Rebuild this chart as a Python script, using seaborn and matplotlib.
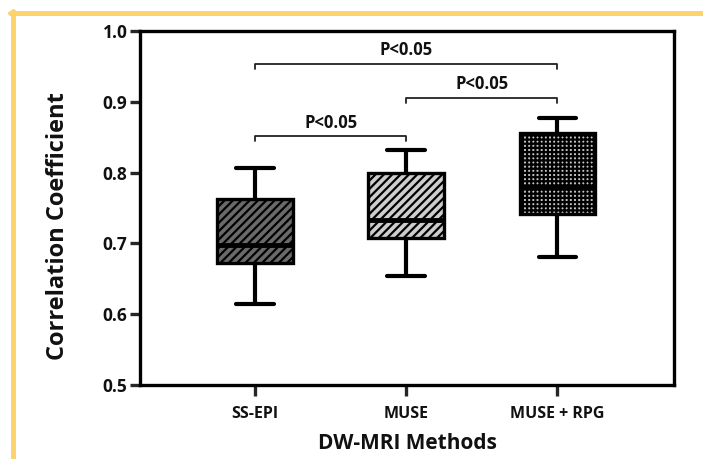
import numpy as np
import pandas as pd
import matplotlib
matplotlib.use("Agg")
import matplotlib.pyplot as plt
import seaborn as sns
from matplotlib.lines import Line2D

# ---- data (five-number summaries) ----
methods = ["SS-EPI", "MUSE", "MUSE + RPG"]
ss_epi = [0.615, 0.673, 0.698, 0.762, 0.806]
muse = [0.654, 0.707, 0.733, 0.800, 0.832]
muse_rpg = [0.681, 0.742, 0.779, 0.856, 0.877]
yticks = [0.5, 0.6, 0.7, 0.8, 0.9, 1.0]
brackets = [(0, 2, 0.954, "P<0.05"), (1, 2, 0.905, "P<0.05"), (0, 1, 0.851, "P<0.05")]

sns.set_style("white")
plt.rcParams["font.family"] = ["Open Sans", "DejaVu Sans"]
plt.rcParams["hatch.linewidth"] = 1.6

df = pd.DataFrame({
    "method": [methods[0]] * len(ss_epi) + [methods[1]] * len(muse) + [methods[2]] * len(muse_rpg),
    "value": ss_epi + muse + muse_rpg,
})

fig = plt.figure(figsize=(7.03, 4.59), dpi=100)
ax = fig.add_axes([0.1991, 0.1612, 0.9587 - 0.1991, 0.9325 - 0.1612])

face = ["#6a6a6a", "#cdcdcd", "#c4c4c4"]
sns.boxplot(data=df, x="method", y="value", hue="method", palette=face, order=methods,
            whis=(0, 100), width=0.5, linewidth=2.4, linecolor="black",
            legend=False, ax=ax,
            medianprops=dict(color="black", linewidth=3.5),
            capprops=dict(color="black", linewidth=3),
            whiskerprops=dict(color="black", linewidth=3),
            boxprops=dict(edgecolor="black", linewidth=2.4))

hatches = ["////", "////", "++++"]
for p, h in zip(ax.patches, hatches):
    p.set_hatch(h)
    p.set_edgecolor("black")

ax.set_xlim(-0.76, 2.77)
ax.set_ylim(0.5, 1.0)
ax.set_yticks(yticks)
ax.set_yticklabels([f"{t:.1f}" for t in yticks])

for s in ax.spines.values():
    s.set_visible(True)
    s.set_linewidth(2.4)
    s.set_color("black")
ax.tick_params(axis="y", direction="out", length=7, width=2.4, left=True,
               labelsize=12.5, pad=2)
ax.tick_params(axis="x", direction="out", length=8, width=2.4, bottom=True,
               labelsize=11.5, pad=7)
for lab in ax.get_xticklabels() + ax.get_yticklabels():
    lab.set_fontweight("bold")
    lab.set_color("#111111")

ax.set_xlabel("DW-MRI Methods", fontsize=15, fontweight="bold", labelpad=8, color="#111111")
ax.set_ylabel("Correlation Coefficient", fontsize=17, fontweight="bold", color="#111111",
              va="center", ha="center")
ax.yaxis.set_label_coords(-0.154, 0.45)

for x0, x1, y, txt in brackets:
    ax.plot([x0, x0, x1, x1], [y - 0.007, y, y, y - 0.007], color="#222222", lw=1.3)
    ax.text((x0 + x1) / 2, y + 0.007, txt, ha="center", va="bottom",
            fontsize=12, fontweight="bold", color="#111111")

# yellow frame (left and top)
yc = "#fdd36e"
fig.add_artist(Line2D([10 / 703, 1.0], [1 - 13 / 459, 1 - 13 / 459], color=yc, lw=3.6,
                      transform=fig.transFigure))
fig.add_artist(Line2D([12.5 / 703, 12.5 / 703], [0, 1 - 11 / 459], color=yc, lw=3.6,
                      transform=fig.transFigure))

fig.savefig("out.png", dpi=100)
